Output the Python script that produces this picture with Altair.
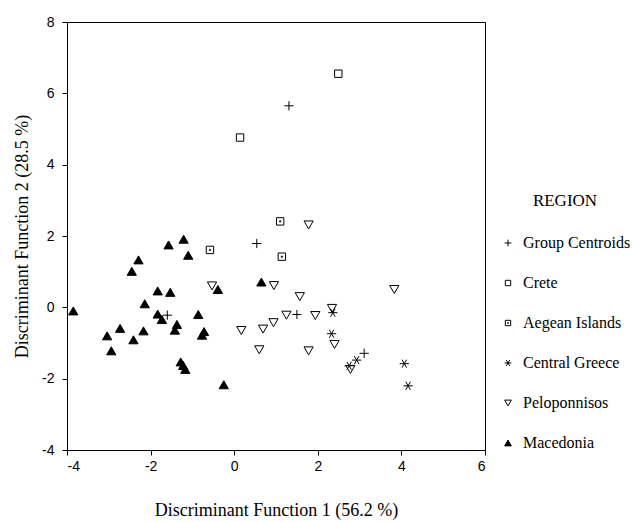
import altair as alt
import pandas as pd

# ---- data ----
centroid_x = [-1.60, 0.54, 1.31, 1.50, 3.11]
centroid_y = [-0.22, 1.79, 5.65, -0.20, -1.29]

crete_x = [0.14, 2.49]
crete_y = [4.76, 6.55]

aegean_x = [1.10, -0.58, 1.14]
aegean_y = [2.41, 1.61, 1.42]

central_x = [2.36, 2.33, 2.93, 2.75, 4.07, 4.16]
central_y = [-0.15, -0.74, -1.48, -1.64, -1.58, -2.20]

pelop_x = [1.78, -0.53, 0.95, 3.83, 1.57, 2.34, 1.25, 1.94, 0.94, 0.69, 0.17, 0.60, 1.78, 2.40, 2.78]
pelop_y = [2.31, 0.60, 0.61, 0.50, 0.30, -0.03, -0.22, -0.23, -0.43, -0.61, -0.65, -1.19, -1.22, -1.04, -1.74]

maced_x = [-3.85, -3.04, -2.94, -2.73, -2.45, -2.29, -2.41, -2.14, -2.17, -1.83, -1.57, -1.53,
           -1.83, -1.73, -1.37, -1.42, -1.21, -1.10, -0.86, -0.72, -0.77, -1.28, -1.22, -1.17,
           -0.39, -0.25, 0.65]
maced_y = [-0.10, -0.80, -1.22, -0.59, 1.01, 1.33, -0.91, 0.10, -0.66, 0.46, 1.75, 0.42,
           -0.19, -0.34, -0.48, -0.64, 1.91, 1.46, -0.20, -0.68, -0.78, -1.53, -1.63, -1.74,
           0.50, -2.17, 0.71]

regions = ["Group Centroids", "Crete", "Aegean Islands", "Central Greece", "Peloponnisos", "Macedonia"]

rows = []
for name, xs, ys in [
    ("Group Centroids", centroid_x, centroid_y),
    ("Crete", crete_x, crete_y),
    ("Aegean Islands", aegean_x, aegean_y),
    ("Central Greece", central_x, central_y),
    ("Peloponnisos", pelop_x, pelop_y),
    ("Macedonia", maced_x, maced_y),
]:
    for a, b in zip(xs, ys):
        rows.append({"x": a, "y": b, "REGION": name})
df = pd.DataFrame(rows)

shapes = [
    "M-1,0H1M0,-1V1",
    "M-0.8,-0.8H0.8V0.8H-0.8Z",
    "M-0.8,-0.8H0.8V0.8H-0.8Z M-0.12,-0.12H0.12V0.12H-0.12Z",
    "M-1,0H1M-0.5,-0.87L0.5,0.87M0.5,-0.87L-0.5,0.87",
    "triangle-down",
    "triangle-up",
]
fills = ["transparent", "transparent", "transparent", "transparent", "transparent", "black"]
strokes = ["black"] * 6

serif = "Liberation Serif"
sans = "Liberation Sans"

hyphen_labels = "datum.value < 0 ? '-' + abs(datum.value) : '' + datum.value"

lg = dict(orient="none", legendX=433, legendY=171, title="REGION")

chart = alt.Chart(df).mark_point(strokeWidth=1, opacity=1, size=85).encode(
    x=alt.X("x:Q", scale=alt.Scale(domain=[-4, 6], nice=False),
            axis=alt.Axis(values=[-4, -2, 0, 2, 4, 6], title="Discriminant Function 1 (56.2 %)",
                          titlePadding=28, labelPadding=4, labelExpr=hyphen_labels)),
    y=alt.Y("y:Q", scale=alt.Scale(domain=[-4, 8], nice=False),
            axis=alt.Axis(values=[-4, -2, 0, 2, 4, 6, 8], title="Discriminant Function 2  (28.5 %)",
                          titlePadding=10, labelPadding=8, labelExpr=hyphen_labels)),
    shape=alt.Shape("REGION:N", scale=alt.Scale(domain=regions, range=shapes),
                    legend=alt.Legend(**lg)),
    fill=alt.Fill("REGION:N", scale=alt.Scale(domain=regions, range=fills),
                  legend=alt.Legend(**lg)),
    stroke=alt.Stroke("REGION:N", scale=alt.Scale(domain=regions, range=strokes),
                      legend=alt.Legend(**lg)),
).properties(
    width=418, height=428,
    autosize=alt.AutoSizeParams(type="none"),
    padding={"left": 59, "top": 14, "right": 146, "bottom": 70},
).configure_view(
    stroke="black", strokeWidth=1
).configure_axis(
    grid=False, domainColor="black", tickColor="black", tickSize=5,
    labelFont=sans, labelFontSize=14, labelColor="black",
    titleFont=serif, titleFontSize=18, titleFontWeight="normal", titleColor="black",
).configure_legend(
    titleFont=serif, titleFontSize=17, titleFontWeight="normal", titleColor="black",
    titleAnchor="middle", titlePadding=25,
    labelFont=serif, labelFontSize=16, labelColor="black", labelOffset=7,
    symbolSize=45, symbolStrokeWidth=1, rowPadding=24,
    labelLimit=300,
)

chart.save("out.html", embed_options={"renderer": "svg", "actions": False})
